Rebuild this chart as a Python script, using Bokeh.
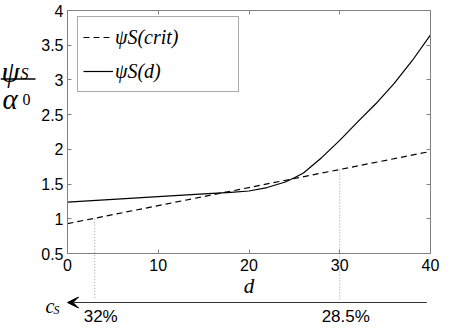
from bokeh.plotting import figure
from bokeh.models import (Range1d, LinearAxis, FixedTicker, Legend, LegendItem,
                          Label, Arrow, VeeHead)
from bokeh.embed import file_html
from bokeh.resources import INLINE

# ---------------- data ----------------
d_crit = [0, 40]
psi_crit = [0.93, 1.97]

d_vals = [0, 5, 10, 15, 18, 20, 22, 24, 25, 26, 28, 30, 32, 34, 36, 38, 40]
psi_d = [1.24, 1.28, 1.32, 1.36, 1.38, 1.40, 1.45, 1.53, 1.59, 1.66, 1.88,
         2.13, 2.40, 2.66, 2.95, 3.28, 3.65]

x_ticks = [0, 10, 20, 30, 40]
x_tick_labels = ["0", "10", "20", "30", "40"]
y_ticks = [0.5, 1, 1.5, 2, 2.5, 3, 3.5, 4]
y_tick_labels = ["0.5", "1", "1.5", "2", "2.5", "3", "3.5", "4"]

cs_d = [3, 30]            # d positions of the c_s marks
cs_top = [1.0, 1.71]      # psi_S(crit) at those d
cs_labels = ["32%", "28.5%"]
cs_axis_end = 39.6        # right end of the c_s arrow (in d units)

# ---------------- layout (pixels) ----------------
W, H = 450, 328
F_L, F_R, F_T, F_B = 67, 430, 10, 253      # axes box inside the canvas
x_lo, x_hi = 0, 40
y_lo, y_hi = 0.5, 4
ux = (x_hi - x_lo) / (F_R - F_L)
uy = (y_hi - y_lo) / (F_B - F_T)
xr = Range1d(x_lo - F_L * ux, x_hi + (W - F_R) * ux)
yr = Range1d(y_lo - (H - F_B) * uy, y_hi + F_T * uy)


def X(px):
    return xr.start + px * ux


def Y(py):
    return yr.end - py * uy


AX = "#808080"

p = figure(width=W, height=H, output_backend="svg", toolbar_location=None,
           x_range=xr, y_range=yr, min_border=0,
           background_fill_color="white", border_fill_color="white")
p.outline_line_color = None
p.xgrid.visible = False
p.ygrid.visible = False

xa = p.xaxis[0]
ya = p.yaxis[0]
xa.fixed_location = y_lo
ya.fixed_location = x_lo
xa.bounds = (x_lo, x_hi)
ya.bounds = (y_lo, y_hi)
xa.ticker = FixedTicker(ticks=x_ticks)
ya.ticker = FixedTicker(ticks=y_ticks)
xa.major_label_overrides = {t: l for t, l in zip(x_ticks, x_tick_labels)}
ya.major_label_overrides = {float(t): l for t, l in zip(y_ticks, y_tick_labels)}

for ax in (xa, ya):
    ax.axis_line_color = AX
    ax.major_tick_line_color = AX
    ax.major_tick_in = 4
    ax.major_tick_out = 0
    ax.minor_tick_line_color = None
    ax.major_label_text_font = "Liberation Sans"
    ax.major_label_text_font_size = "16px"
    ax.major_label_text_color = "black"
xa.major_label_standoff = 5
ya.major_label_standoff = 4

xa.axis_label = "d"
xa.axis_label_text_font = "Liberation Serif"
xa.axis_label_text_font_style = "italic"
xa.axis_label_text_font_size = "21px"
xa.axis_label_text_color = "black"
xa.axis_label_standoff = 0

for loc, ticks, fl, bnd in (("above", x_ticks, y_hi, (x_lo, x_hi)),
                            ("right", y_ticks, x_hi, (y_lo, y_hi))):
    a = LinearAxis(ticker=FixedTicker(ticks=ticks), fixed_location=fl, bounds=bnd,
                   axis_line_color=AX, major_tick_line_color=AX,
                   major_tick_in=4, major_tick_out=0, minor_tick_line_color=None,
                   major_label_overrides={float(t): "" for t in ticks},
                   major_label_standoff=0)
    p.add_layout(a, loc)

# ---------------- curves ----------------
r1 = p.line(d_crit, psi_crit, line_color="black", line_width=1.2, line_dash="6 4")
r2 = p.line(d_vals, psi_d, line_color="black", line_width=1.2)

LEG_PAD, LEG_ROW, LEG_SP = 5, 30, 4
leg_h = 2 * LEG_PAD + 2 * LEG_ROW + LEG_SP
legend = Legend(items=[LegendItem(label="ψS(crit)", renderers=[r1]),
                       LegendItem(label="ψS(d)", renderers=[r2])],
                location=(77, H - 18 - leg_h), padding=LEG_PAD, spacing=LEG_SP,
                glyph_width=30, glyph_height=LEG_ROW, label_height=LEG_ROW,
                label_standoff=2, label_width=118,
                label_text_font="Liberation Serif", label_text_font_style="italic",
                label_text_font_size="20px", label_text_color="black",
                border_line_color="#555555", border_line_width=1,
                background_fill_color="white", background_fill_alpha=1)
p.add_layout(legend)

# ---------------- c_s annotation below the axis ----------------
p.segment(x0=cs_d, y0=cs_top, x1=cs_d, y1=[Y(299)] * len(cs_d),
          line_color="#999999", line_width=1, line_dash="1 2")

p.add_layout(Arrow(x_start=cs_axis_end, y_start=Y(302), x_end=x_lo, y_end=Y(302),
                   line_color="#333333", line_width=1,
                   end=VeeHead(size=11, fill_color="black", line_color="black")))

for d0, lab in zip(cs_d, cs_labels):
    p.add_layout(Label(x=d0, y=Y(316), text=lab, x_offset=6,
                       text_align="center", text_baseline="middle",
                       text_font="Liberation Sans", text_font_size="17px",
                       text_color="black"))

serif = dict(text_align="left", text_baseline="alphabetic",
             text_font="Liberation Serif", text_color="black")
p.add_layout(Label(x=X(45), y=Y(305), text="c", text_font_style="italic",
                   text_font_size="20px", **serif))
p.add_layout(Label(x=X(53), y=Y(309), text="S", text_font_style="italic",
                   text_font_size="12px", **serif))

# ---------------- y label: psi_S / alpha_0 ----------------
p.add_layout(Label(x=X(1), y=Y(71), text="ψ", text_font_style="italic",
                   text_font_size="29px", **serif))
p.add_layout(Label(x=X(20), y=Y(73), text="S", text_font_style="italic",
                   text_font_size="16px", **serif))
p.add_layout(Arrow(x_start=X(0), y_start=Y(78.5), x_end=X(35), y_end=Y(78.5),
                   start=None, end=None, line_color="black", line_width=1.3))
p.add_layout(Label(x=X(2), y=Y(98), text="α", text_font_style="italic",
                   text_font_size="29px", **serif))
p.add_layout(Label(x=X(22), y=Y(99), text="0", text_font_size="16px", **serif))

open("out.html", "w").write(file_html(p, INLINE))
